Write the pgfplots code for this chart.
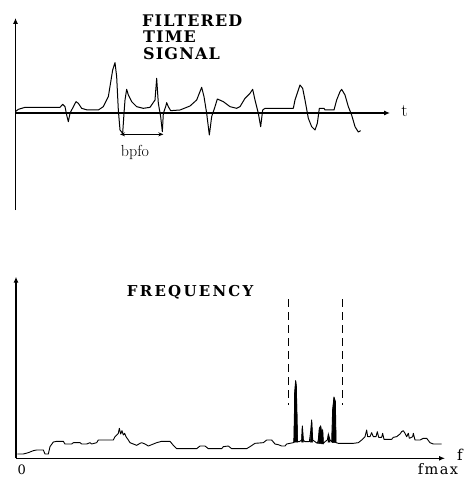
\documentclass[border=0pt]{standalone}
\usepackage{fontspec}
\usepackage{pgfplots}
\pgfplotsset{compat=1.18}
\usetikzlibrary{arrows.meta}
\newfontfamily\titlefont{DejaVu Serif}
\newfontfamily\titlefontA{DejaVu Serif}[LetterSpace=7]
\newfontfamily\titlefontB{DejaVu Serif}[LetterSpace=15]
\newfontfamily\titlefontC{DejaVu Serif}[LetterSpace=10]
\begin{document}
\begin{tikzpicture}
\useasboundingbox (0,0) rectangle (464pt,-477pt);
% ---------------- top: filtered time signal ----------------
\begin{axis}[
  at={(15.5pt,-210pt)}, anchor=south west,
  x=1pt, y=1pt,
  xmin=0, xmax=374.5, ymin=-97, ymax=95,
  axis lines=middle, clip=false,
  xtick=\empty, ytick=\empty,
  axis line style={line width=1.1pt},
  every inner x axis line/.append style={-{Latex[length=6pt,width=5pt]}},
  every inner y axis line/.append style={-{Latex[length=6pt,width=5pt]}},
  x filter/.expression={x/3-15.5},
  y filter/.expression={113-y/3},
]
\addplot[black, line width=1pt, line join=round] coordinates {
(46,335) (55,328) (75,322) (180,322) (188,313) (195,320) (200,345) (205,365)
(210,340) (215,330) (228,305) (235,310) (245,325) (262,330) (295,330) (310,320)
(325,290) (338,210) (345,188) (350,230) (355,330) (360,390) (368,400) (372,340)
(375,300) (380,268) (385,285) (395,305) (410,320) (430,325) (450,322) (465,300)
(470,235) (475,310) (482,350) (487,395) (490,340) (497,320) (500,308) (505,320)
(512,332) (540,330) (570,318) (590,300) (605,262) (612,290) (620,340) (628,405)
(635,350) (645,320) (652,297) (670,305) (690,320) (710,325) (720,320) (735,295)
(750,280) (758,268) (765,300) (775,340) (782,380) (788,330) (795,325) (880,325)
(885,300) (895,270) (900,255) (908,265) (915,300) (925,355) (935,380) (945,390)
(952,370) (958,325) (972,325) (975,330) (1002,330) (1010,300) (1020,275) (1025,268)
(1035,285) (1045,320) (1055,345) (1065,380) (1075,396) (1082,392)
};
\addplot[black, line width=1pt, {Stealth[length=5pt,width=4pt]}-{Stealth[length=5pt,width=4pt]}] coordinates {(360,403) (490,403)};
\end{axis}
% ---------------- bottom: frequency spectrum ----------------
\begin{axis}[
  at={(16pt,-458.3pt)}, anchor=south west,
  x=1pt, y=1pt,
  xmin=0, xmax=429, ymin=0, ymax=181.6,
  axis lines=middle, clip=false,
  xtick=\empty, ytick=\empty,
  axis line style={line width=1.1pt},
  every inner x axis line/.append style={-{Latex[length=6pt,width=5pt]}},
  every inner y axis line/.append style={-{Latex[length=6pt,width=5pt]}},
  x filter/.expression={x/3-16},
  y filter/.expression={198.3-y/3},
]
\addplot[black, line width=0.9pt, line join=round] coordinates {
(52,582) (70,582) (85,578) (100,572) (110,570) (130,570) (135,582) (145,582)
(150,560) (160,546) (170,544) (190,544) (195,552) (215,552) (220,548) (240,548)
(245,552) (260,552) (270,548) (275,552) (290,548) (295,540) (340,540) (345,530)
(350,525) (355,520) (358,505) (362,522) (366,512) (370,525) (374,520) (378,530)
(385,540) (390,548) (400,552) (410,556) (420,550) (425,548) (435,552) (445,558)
(460,552) (470,548) (485,544) (510,544) (520,556) (530,566) (590,566) (600,558)
(615,558) (625,566) (665,566) (670,560) (685,558) (695,566) (740,566) (750,560)
(765,550) (790,548) (800,540) (815,540) (825,552) (835,554) (845,558) (855,558)
(860,552) (870,550) (880,548) (884,545) (884,400) (887,362) (889,380) (892,545)
(898,545) (905,540) (907,498) (910,540) (915,545) (928,545) (932,515) (935,480)
(938,540) (945,545) (952,550) (955,540) (958,505) (962,498) (965,520) (968,510)
(970,550) (975,545) (982,540) (985,522) (990,540) (995,545) (998,450) (1002,412)
(1006,425) (1008,548) (1015,550) (1040,550) (1060,550) (1075,548) (1085,540)
(1095,530) (1100,510) (1103,530) (1110,530) (1115,518) (1120,530) (1128,530)
(1132,515) (1136,532) (1145,532) (1148,520) (1152,538) (1175,538) (1180,532)
(1190,530) (1200,522) (1205,515) (1210,512) (1215,520) (1220,530) (1225,520)
(1228,535) (1238,530) (1240,520) (1245,540) (1260,540) (1270,535) (1280,535)
(1290,548) (1300,552) (1325,552)
};
% filled spikes
\addplot[black, fill=black, line width=0.5pt] coordinates {(881,546) (884,400) (887,362) (889,380) (893,546)} -- cycle;
\addplot[black, fill=black, line width=0.5pt] coordinates {(905,546) (907,498) (910,546)} -- cycle;
\addplot[black, fill=black, line width=0.5pt] coordinates {(931,546) (935,480) (938,546)} -- cycle;
\addplot[black, fill=black, line width=0.5pt] coordinates {(955,550) (958,505) (962,498) (965,520) (968,510) (970,552)} -- cycle;
\addplot[black, fill=black, line width=0.5pt] coordinates {(984,546) (985,522) (990,546)} -- cycle;
\addplot[black, fill=black, line width=0.5pt] coordinates {(996,548) (998,450) (1002,412) (1006,425) (1008,548)} -- cycle;
% dashed markers
\addplot[black, line width=0.9pt, dash pattern=on 8pt off 5pt] coordinates {(866,118) (866,435)};
\addplot[black, line width=0.9pt, dash pattern=on 8pt off 5pt] coordinates {(1028,118) (1028,435)};
\end{axis}
% ---------------- texts ----------------
\begin{scope}[font=\titlefontA\bfseries\fontsize{16}{17}\selectfont]
\node[anchor=base west, inner sep=0pt] at (142pt,-26pt) {FILTERED};
\node[anchor=base west, inner sep=0pt] at (143pt,-42.3pt) {TIME};
\node[anchor=base west, inner sep=0pt] at (143pt,-59.3pt) {SIGNAL};
\end{scope}
\node[anchor=base west, inner sep=0pt, font=\titlefontB\bfseries\fontsize{15}{16}\selectfont] at (126.7pt,-296.7pt) {FREQUENCY};
\node[anchor=base, inner sep=0pt, font=\fontsize{16}{18}\selectfont] at (135pt,-156.5pt) {bpfo};
\node[anchor=base, inner sep=0pt, font=\fontsize{18}{20}\selectfont] at (404.5pt,-116.7pt) {t};
\node[anchor=base west, inner sep=0pt, font=\titlefont\fontsize{15}{16}\selectfont] at (457pt,-460pt) {f};
\node[anchor=south, inner sep=0pt, font=\titlefont\fontsize{13}{15}\selectfont] at (21.7pt,-475pt) {0};
\node[anchor=south, inner sep=0pt, font=\titlefontC\fontsize{14.5}{16}\selectfont] at (438pt,-475pt) {fmax};
\end{tikzpicture}
\end{document}
